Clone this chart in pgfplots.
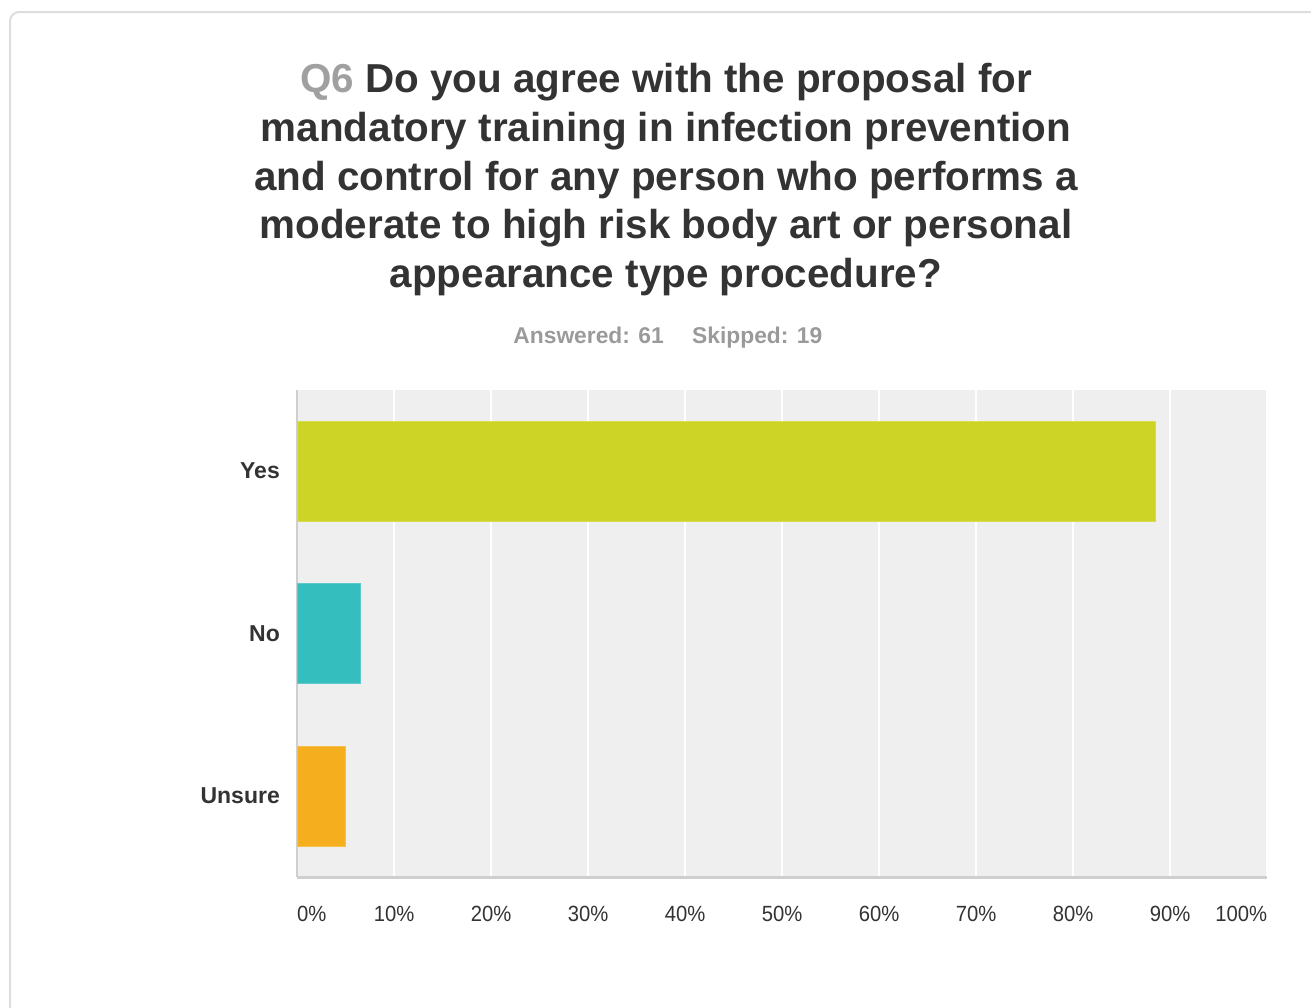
\documentclass[border=0pt]{standalone}
\usepackage{pgfplots}
\pgfplotsset{compat=1.18}
\usepackage{fontspec}
\setmainfont{Liberation Sans}
\newfontfamily\tickfont[FakeStretch=0.92]{Liberation Sans}

\definecolor{titlegray}{HTML}{333333}
\definecolor{qgray}{HTML}{A0A0A0}
\definecolor{subgray}{HTML}{9A9A9A}
\definecolor{plotbg}{HTML}{EFEFEF}
\definecolor{axisgray}{HTML}{CFCFCF}
\definecolor{cardborder}{HTML}{DDDDDD}
\definecolor{yescol}{HTML}{CDD426}
\definecolor{nocol}{HTML}{35BEBE}
\definecolor{unsurecol}{HTML}{F5AF1E}

\begin{document}
\begin{tikzpicture}[x=1bp,y=-1bp]
\useasboundingbox (0,0) rectangle (1311,1007);
% card frame
\draw[cardborder, line width=2bp, rounded corners=9bp] (10,12) rectangle (1340,1040);

% title
\begin{scope}[every node/.style={anchor=base, inner sep=0pt, text=titlegray,
    font=\fontsize{40.4bp}{49bp}\selectfont\bfseries}]
\node at (666,92)  {{\color{qgray}Q6} Do you agree with the proposal for};
\node at (666,141) {mandatory training in infection prevention};
\node at (666,190) {and control for any person who performs a};
\node at (666,238) {moderate to high risk body art or personal};
\node at (666,287) {appearance type procedure?};
\end{scope}
\node[anchor=base east, inner sep=0pt, text=subgray, font=\fontsize{22.8bp}{26bp}\selectfont\bfseries]
  at (664,343) {Answered: 61};
\node[anchor=base west, inner sep=0pt, text=subgray, font=\fontsize{22.8bp}{26bp}\selectfont\bfseries]
  at (692,343) {Skipped: 19};

\begin{axis}[
  at={(297bp,-877bp)}, anchor=south west,
  scale only axis, width=970bp, height=487bp,
  xbar, bar width=100bp,
  xmin=0, xmax=100, ymin=-0.5, ymax=2.5,
  axis background/.style={fill=plotbg},
  axis x line*=bottom, axis y line*=left,
  x axis line style={draw=axisgray, line width=3bp, -},
  y axis line style={draw=axisgray, line width=2bp, -},
  xtick={0,10,...,100},
  xticklabels={{\rlap{0\%}},10\%,20\%,30\%,40\%,50\%,60\%,70\%,80\%,90\%,{\llap{100\%}}},
  ytick={0,1,2},
  yticklabels={Unsure,No,Yes},
  major tick length=0pt,
  xmajorgrids, major grid style={draw=white, line width=2bp},
  xticklabel style={inner sep=0pt, anchor=north, yshift=-29bp,
    font=\tickfont\fontsize{22bp}{26bp}\selectfont, text=titlegray},
  yticklabel style={inner sep=0pt, anchor=east, xshift=-17bp,
    font=\fontsize{23bp}{27bp}\selectfont\bfseries, text=titlegray},
]
\addplot[fill=yescol, draw=yescol!80!white, bar shift=0pt] coordinates {(88.52,2)};
\addplot[fill=nocol, draw=nocol!80!white, bar shift=0pt] coordinates {(6.56,1)};
\addplot[fill=unsurecol, draw=unsurecol!80!white, bar shift=0pt] coordinates {(4.92,0)};
\end{axis}
\end{tikzpicture}
\end{document}
